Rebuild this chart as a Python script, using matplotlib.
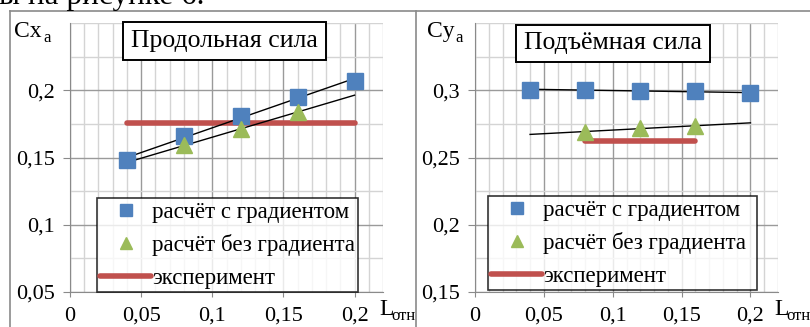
import numpy as np
import matplotlib
matplotlib.use("Agg")
import matplotlib.pyplot as plt
from matplotlib.lines import Line2D

plt.rcParams['font.family'] = ['Liberation Serif', 'DejaVu Serif']

# relative length of the part
x_grad = [0.04, 0.08, 0.12, 0.16, 0.20]
x_nograd = [0.08, 0.12, 0.16]

# drag coefficient Cx_a
cx_grad = [0.148, 0.166, 0.181, 0.195, 0.207]
cx_nograd = [0.159, 0.171, 0.184]
cx_exp = 0.176
cx_exp_range = [0.04, 0.20]

# lift coefficient Cy_a
cy_grad = [0.3005, 0.3002, 0.2995, 0.2995, 0.2977]
cy_nograd = [0.2692, 0.2717, 0.2735]
cy_exp = 0.262
cy_exp_range = [0.08, 0.16]

x_ticks = [0, 0.05, 0.1, 0.15, 0.2]
x_labels = ['0', '0,05', '0,1', '0,15', '0,2']
cx_ticks = [0.05, 0.1, 0.15, 0.2]
cx_labels = ['0,05', '0,1', '0,15', '0,2']
cy_ticks = [0.15, 0.2, 0.25, 0.3]
cy_labels = ['0,15', '0,2', '0,25', '0,3']

labels = ['расчёт с градиентом', 'расчёт без градиента', 'эксперимент']

BLUE = '#4F81BD'
GREEN = '#9BBB59'
RED = '#C0504D'

W, H = 810, 327
fig = plt.figure(figsize=(W / 100, H / 100), dpi=100)


def px_axes(x0, x1, y0, y1):
    return fig.add_axes([x0 / W, 1 - y1 / H, (x1 - x0) / W, (y1 - y0) / H])


def trend(ax, x, y):
    k, b = np.polyfit(x, y, 1)
    xs = np.array([0.04, 0.20])
    ax.plot(xs, k * xs + b, color='black', lw=1.0, zorder=3)


def setup(ax, ylim, yticks, ylabels, title, title_xy, leg_box):
    ax.set_xlim(0, 0.22)
    ax.set_ylim(*ylim)
    ax.set_xticks(x_ticks)
    ax.set_xticklabels(x_labels)
    ax.set_xticks(np.arange(0, 0.2201, 0.01), minor=True)
    ax.set_yticks(yticks)
    ax.set_yticklabels(ylabels)
    ax.set_yticks(np.arange(ylim[0], ylim[1] + 1e-6, 0.025), minor=True)
    ax.grid(which='major', color='#9a9a9a', lw=1.0, zorder=0)
    ax.grid(which='minor', color='#d4d4d4', lw=1.0, zorder=0)
    ax.set_axisbelow(True)
    for s in ('top', 'right'):
        ax.spines[s].set_visible(False)
    for s in ('left', 'bottom'):
        ax.spines[s].set_color('#8a8a8a')
    ax.tick_params(which='major', color='#8a8a8a', labelsize=16)
    ax.tick_params(axis='x', which='major', length=3.6, pad=7)
    ax.tick_params(axis='y', which='major', length=5, pad=6)
    ax.tick_params(which='minor', length=0)
    ax.text(title_xy[0], title_xy[1], title, transform=ax.transAxes, fontsize=18.5,
            ha='center', va='center', zorder=6,
            bbox=dict(boxstyle='square,pad=0.3', fc='white', ec='black', lw=1.4))
    handles = [
        Line2D([], [], ls='none', marker='s', ms=9, color=BLUE),
        Line2D([], [], ls='none', marker='^', ms=9, color=GREEN),
        Line2D([], [], color=RED, lw=4, solid_capstyle='round'),
    ]
    leg = ax.legend(handles, labels, loc='lower left', bbox_to_anchor=leg_box,
                    mode='expand', fontsize=16.5, frameon=True, fancybox=False,
                    handlelength=2.2, handletextpad=0.05, labelspacing=0.5,
                    borderpad=0.15, borderaxespad=0)
    leg.get_frame().set_edgecolor('black')
    leg.get_frame().set_linewidth(1.2)
    leg.set_zorder(7)


# left panel: drag
ax1 = px_axes(70, 383, 23, 292)
ax1.plot(cx_exp_range, [cx_exp, cx_exp], color=RED, lw=4, solid_capstyle='round', zorder=2)
trend(ax1, x_grad, cx_grad)
trend(ax1, x_nograd, cx_nograd)
ax1.plot(x_grad, cx_grad, ls='none', marker='s', ms=11, color=BLUE, zorder=4)
ax1.plot(x_nograd, cx_nograd, ls='none', marker='^', ms=11, color=GREEN, zorder=4)
setup(ax1, (0.05, 0.25), cx_ticks, cx_labels, 'Продольная сила', (0.494, 0.933),
      (0.086, 0.0, 0.834, 0.37))

# right panel: lift
ax2 = px_axes(475, 778, 23, 292)
ax2.plot(cy_exp_range, [cy_exp, cy_exp], color=RED, lw=4, solid_capstyle='round', zorder=2)
trend(ax2, x_grad, cy_grad)
trend(ax2, x_nograd, cy_nograd)
ax2.plot(x_grad, cy_grad, ls='none', marker='s', ms=11, color=BLUE, zorder=4)
ax2.plot(x_nograd, cy_nograd, ls='none', marker='^', ms=11, color=GREEN, zorder=4)
setup(ax2, (0.15, 0.35), cy_ticks, cy_labels, 'Подъёмная сила', (0.455, 0.924),
      (0.043, 0.007, 0.887, 0.36))

# axis captions with subscripts
def caption(x, y, main, sub, sub_dx):
    fig.text(x / W, 1 - y / H, main, fontsize=17, va='baseline')
    fig.text((x + sub_dx) / W, 1 - (y + 5) / H, sub, fontsize=12, va='baseline')


caption(14, 37, 'Cx', 'a', 29)
caption(427, 37, 'Cy', 'a', 28)
caption(379, 315, 'L', 'отн', 12)
caption(774, 315, 'L', 'отн', 12)

# paragraph line cut at the top of the page
fig.text(-1 / W, 1 - 4 / H, 'ы на рисунке 6.', fontsize=22.5, va='baseline')

# chart area borders
for xs, ys in (([10, 10], [11, 330]), ([10, 815], [11, 11]), ([416, 416], [11, 330])):
    fig.add_artist(Line2D([x / W for x in xs], [1 - y / H for y in ys],
                          color='#8a8a8a', lw=1.2))

fig.savefig('out.png', dpi=100)
